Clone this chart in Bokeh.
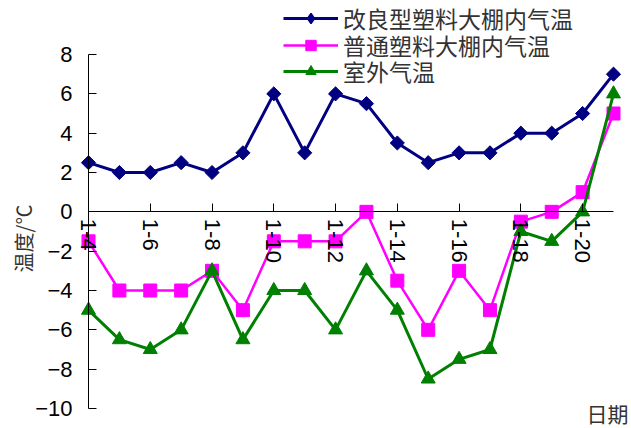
import numpy as np
from bokeh.plotting import figure
from bokeh.models import Range1d, FixedTicker, Label, Legend, LegendItem
from bokeh.embed import file_html
from bokeh.resources import INLINE

dates = ["1-4", "1-5", "1-6", "1-7", "1-8", "1-9", "1-10", "1-11", "1-12",
         "1-13", "1-14", "1-15", "1-16", "1-17", "1-18", "1-19", "1-20", "1-21"]
improved = [2.5, 2, 2, 2.5, 2, 3, 6, 3, 6, 5.5, 3.5, 2.5, 3, 3, 4, 4, 5, 7]
normal = [-1.5, -4, -4, -4, -3, -5, -1.5, -1.5, -1.5, 0, -3.5, -6, -3, -5, -0.5, 0, 1, 5]
outdoor = [-5, -6.5, -7, -6, -3, -6.5, -4, -4, -6, -3, -5, -8.5, -7.5, -7, -1, -1.5, 0, 6]
y_ticks = [-10, -8, -6, -4, -2, 0, 2, 4, 6, 8]
names = ["改良型塑料大棚内气温", "普通塑料大棚内气温", "室外气温"]

x = list(range(len(dates)))

p = figure(width=631, height=428, output_backend="svg", toolbar_location=None,
           x_range=Range1d(-2.850, 17.583), y_range=Range1d(-11.017, 10.746),
           min_border=0, min_border_left=0, min_border_right=0,
           min_border_top=0, min_border_bottom=0)
p.outline_line_color = None
p.grid.visible = False
p.background_fill_color = "white"

l1 = p.line(x, improved, color="#000080", line_width=3)
p.scatter(x, improved, marker="square", angle=np.pi / 4, size=10, color="#000080")
l2 = p.line(x, normal, color="#FF00FF", line_width=2.5)
m2 = p.scatter(x, normal, marker="square", size=13, color="#FF00FF")
l3 = p.line(x, outdoor, color="#008000", line_width=3)
m3 = p.scatter(x, outdoor, marker="triangle", size=14, color="#008000")
# legend-only diamond (no data drawn in the plot)
m1 = p.scatter([np.nan], [np.nan], marker="diamond", size=14, line_width=1.5, color="#000080")

xa = p.xaxis[0]
xa.fixed_location = 0
xa.bounds = (0, len(dates) - 1)
xa.ticker = FixedTicker(ticks=list(range(0, len(dates), 2)))
xa.major_label_overrides = {i: dates[i] for i in range(0, len(dates), 2)}
xa.major_label_orientation = "vertical"
xa.major_tick_in = 8
xa.major_tick_out = 0
xa.minor_tick_line_color = None
xa.major_label_standoff = 7
xa.major_label_text_font = "Liberation Sans"
xa.major_label_text_font_size = "22px"
xa.major_label_text_color = "black"
xa.axis_line_color = "black"
xa.major_tick_line_color = "black"

ya = p.yaxis[0]
ya.fixed_location = 0
ya.bounds = (-10, 8)
ya.ticker = FixedTicker(ticks=y_ticks)
ya.major_tick_in = 8
ya.major_tick_out = 0
ya.minor_tick_line_color = None
ya.major_label_standoff = 16
ya.major_label_text_font = "Liberation Sans"
ya.major_label_text_font_size = "22px"
ya.major_label_text_color = "black"
ya.axis_line_color = "black"
ya.major_tick_line_color = "black"

p.add_layout(Label(x=23, y=190, x_units="screen", y_units="screen", text="温度/℃",
                   angle=np.pi / 2, text_align="center", text_baseline="middle",
                   text_font="Noto Sans CJK SC", text_font_size="20px", text_color="#333333"))
p.add_layout(Label(x=607, y=16, x_units="screen", y_units="screen", text="日期",
                   text_align="center", text_baseline="middle",
                   text_font="Noto Sans CJK SC", text_font_size="21px", text_color="#333333"))

for name, rends, ypos in [(names[0], [l1, m1], 393), (names[1], [l2, m2], 366), (names[2], [l3, m3], 340)]:
    lg = Legend(items=[LegendItem(label=name, renderers=rends)], location=(283, ypos))
    lg.glyph_width = 55
    lg.glyph_height = 26
    lg.label_height = 26
    lg.spacing = 0
    lg.padding = 0
    lg.margin = 0
    lg.label_standoff = 5
    lg.border_line_alpha = 0
    lg.background_fill_alpha = 0
    lg.label_text_font = "Noto Sans CJK SC"
    lg.label_text_font_size = "23px"
    lg.label_text_color = "#333333"
    p.add_layout(lg)

open("out.html", "w").write(file_html(p, INLINE))
